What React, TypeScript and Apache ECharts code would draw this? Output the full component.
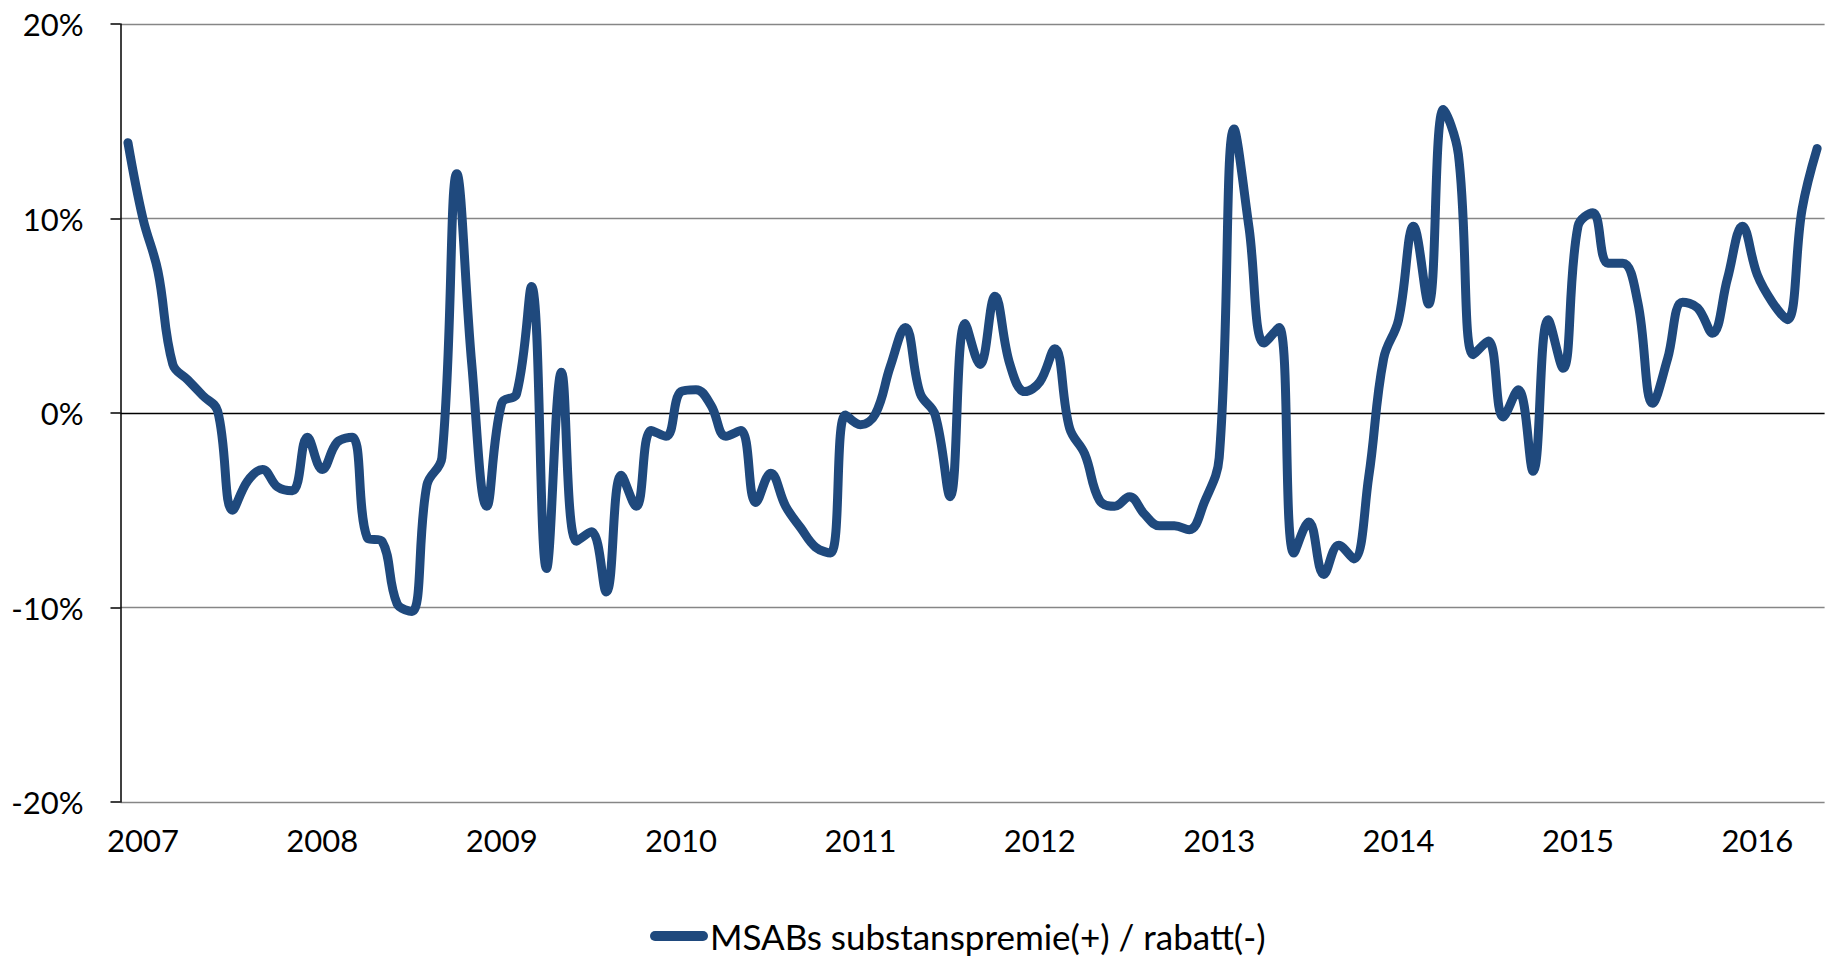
import React, { useEffect, useRef } from "react";
import * as echarts from "echarts";

// Monthly premium(+)/discount(-) in %, Dec 2006 .. May 2016
const premiumValues: number[] = [
  13.9, // 2006-12
  10.0, 7.3, 2.5, 1.7, 0.9, 0.1, -5.0, -3.5, -2.9, -3.8, -4.0, -1.25, // 2007
  -2.9, -1.5, -1.25, -6.4, -6.6, -9.8, -10.2, -3.7, -2.3, 12.3, 2.5, -4.8, // 2008
  0.5, 1.0, 6.5, -8.0, 2.1, -6.6, -6.1, -9.2, -3.2, -4.8, -0.9, -1.2, // 2009
  1.1, 1.2, 0.4, -1.2, -0.9, -4.6, -3.1, -4.8, -5.9, -6.9, -7.2, -0.1, // 2010
  -0.6, -0.05, 2.4, 4.4, 1.0, -0.1, -4.3, 4.6, 2.5, 6.0, 2.5, 1.1, // 2011
  1.6, 3.3, -0.8, -2.1, -4.5, -4.8, -4.3, -5.2, -5.8, -5.8, -6.0, -4.6, // 2012
  -2.3, 14.6, 9.5, 3.6, 4.4, -7.2, -5.6, -8.3, -6.8, -7.5, -3.3, 2.8, // 2013
  4.8, 9.6, 5.6, 15.6, 13.3, 3.0, 3.7, -0.2, 1.2, -3.0, 4.8, 2.3, // 2014
  9.6, 10.3, 7.7, 7.7, 5.7, 0.5, 2.8, 5.7, 5.4, 4.1, 6.9, 9.6, // 2015
  7.1, 5.7, 4.8, 10.5, 13.6, // 2016
];

const firstYear = 2006;
const firstMonth = 12;
const monthCategories: string[] = premiumValues.map((_, i) => {
  const m = firstMonth - 1 + i;
  const y = firstYear + Math.floor(m / 12);
  const mm = (m % 12) + 1;
  return `${y}-${mm < 10 ? "0" + mm : mm}`;
});

const yTickValues = [-20, -10, 0, 10, 20];
const seriesName = "MSABs substanspremie(+) / rabatt(-)";

const FONT = "Lato, 'Open Sans', sans-serif";
const LINE_COLOR = "#1F497D";

export default function App() {
  const ref = useRef<HTMLDivElement>(null);

  useEffect(() => {
    if (!ref.current) return;
    const chart = echarts.init(ref.current, undefined, { renderer: "svg" });
    const gridColors = yTickValues.map((v) => (v === 0 ? "#000000" : "#868686"));
    chart.setOption({
      animation: false,
      backgroundColor: "#ffffff",
      grid: { left: 120.5, right: 9.4, top: 24, bottom: 154, containLabel: false },
      legend: {
        show: true,
        data: [seriesName],
        left: 645,
        top: 912,
        itemWidth: 58,
        itemHeight: 10,
        itemGap: 10,
        icon: "path://M5 0H53A5 5 0 0 1 53 10H5A5 5 0 0 1 5 0Z",
        textStyle: {
          color: "#000",
          fontFamily: FONT,
          fontSize: 35,
          lineHeight: 38,
          padding: [0, 0, 0, -3],
        },
      },
      xAxis: {
        type: "category",
        data: monthCategories,
        boundaryGap: true,
        axisLine: { show: false },
        axisTick: { show: false },
        splitLine: { show: false },
        axisLabel: {
          interval: (_idx: number, val: string) => val.endsWith("-01"),
          formatter: (val: string) => val.slice(0, 4),
          color: "#000",
          fontFamily: FONT,
          fontSize: 31,
          margin: 22,
        },
      },
      yAxis: {
        type: "value",
        min: -20,
        max: 20,
        interval: 10,
        axisLine: { show: true, lineStyle: { color: "#000", width: 1.5 } },
        axisTick: { show: true, length: 10, lineStyle: { color: "#000", width: 1.5 } },
        axisLabel: {
          formatter: "{value}%",
          color: "#000",
          fontFamily: FONT,
          fontSize: 31,
          margin: 37,
        },
        splitLine: { show: true, lineStyle: { color: gridColors, width: 1.3 } },
      },
      series: [
        {
          type: "line",
          name: seriesName,
          data: premiumValues,
          smooth: 0.4,
          symbol: "none",
          showSymbol: false,
          lineStyle: { color: LINE_COLOR, width: 9, cap: "round", join: "round" },
          itemStyle: { color: LINE_COLOR },
        },
      ],
    });
    return () => chart.dispose();
  }, []);

  return (
    <div
      ref={ref}
      style={{ position: "absolute", left: 0, top: 0, width: 1834, height: 956 }}
    />
  );
}
